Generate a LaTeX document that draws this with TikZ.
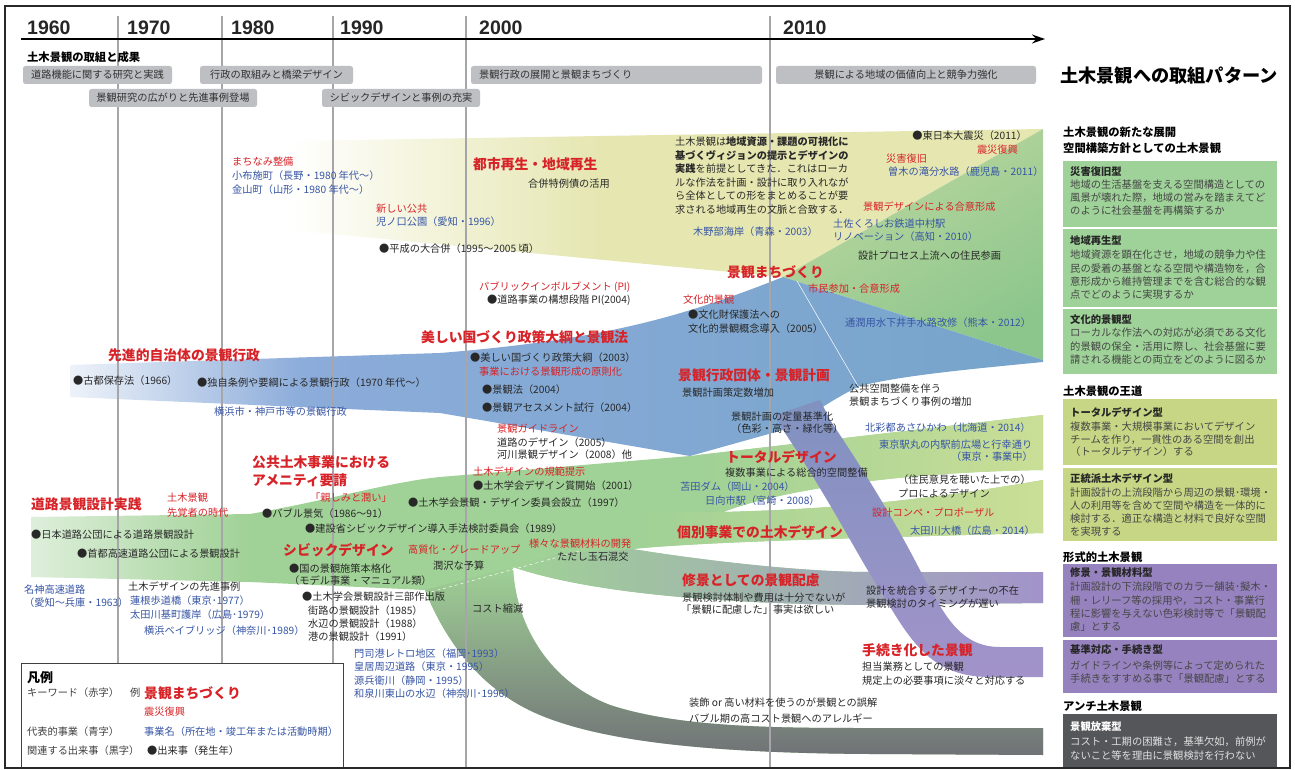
\documentclass[tikz,border=0pt]{standalone}
\usepackage{fontspec}
\setmainfont{Noto Sans CJK JP}
\newfontfamily\yearfont{Liberation Sans}
\usetikzlibrary{arrows.meta}
\definecolor{yel}{RGB}{229,230,176}
\definecolor{grn}{RGB}{160,209,150}
\definecolor{grnR}{RGB}{140,198,140}
\definecolor{ygrn}{RGB}{202,222,150}
\definecolor{blu1}{RGB}{140,172,218}
\definecolor{blu2}{RGB}{118,164,202}
\definecolor{pur}{RGB}{162,147,202}
\definecolor{gry}{RGB}{112,114,118}
\definecolor{strp}{RGB}{128,146,192}
\definecolor{linegray}{RGB}{165,165,170}
\definecolor{hdrbox}{RGB}{190,191,194}
\definecolor{hbt}{RGB}{50,50,50}
\definecolor{txtred}{RGB}{215,35,40}
\definecolor{txtblu}{RGB}{55,85,165}
\definecolor{txtk}{RGB}{40,40,40}
\definecolor{txtbody}{RGB}{70,70,70}
\definecolor{bxgrn}{RGB}{158,210,152}
\definecolor{bxyg}{RGB}{198,214,132}
\definecolor{bxpur}{RGB}{150,130,190}
\definecolor{bxdk}{RGB}{85,86,90}
\definecolor{frame}{RGB}{40,40,40}
\newcounter{tc}
\newcommand\fs[1]{\fontsize{#1bp}{#1bp}\selectfont}
\newcommand\T[4][]{\stepcounter{tc}\node[tx,#1] (t\arabic{tc}) at (#2,#3) {#4};}
\newcommand\HB[5]{\fill[hdrbox,rounded corners=2.5bp] (#1,#2) rectangle (#3,#4);
  \stepcounter{tc}\node[tx,anchor=center,text=hbt] (t\arabic{tc}) at ({(#1+#3)/2},{(#2+#4)/2}) {#5};}
\begin{document}
\begin{tikzpicture}[x=1bp,y=-1bp,
  tx/.style={anchor=west,inner sep=0pt,text=txtk,font=\fs{10.2}},
  redt/.style={text=txtred},
  blut/.style={text=txtblu},
  bigred/.style={text=txtred,font=\fs{13.8}\bfseries},
  hdr/.style={font=\fs{11.3}\bfseries,text=black},
  bxtitle/.style={font=\fs{10.3}\bfseries,text=black!85},
  bxbody/.style={font=\fs{10.3},text=txtbody},
  yr/.style={anchor=west,inner sep=0pt,font=\yearfont\fs{19.5}\bfseries,text=black!85},
  yline/.style={draw=linegray,line width=1.6bp}]
\useasboundingbox (0,0) rectangle (1295,770);
\fill[white] (0,0) rectangle (1295,770);

% ---------------- bands ----------------
% yellow (urban regeneration)
\shade[left color=white, right color=yel] (290,141) -- (600,136) -- (600,259.6) -- (290,230) -- cycle;
\fill[yel] (599,136) -- (1043,129) -- (783,277) -- (599,259.5) -- cycle;
% green fan (right)
\shade[top color=yel!55!grnR, bottom color=grnR, shading angle=30] (783,277) -- (1043,129) -- (1043,360) -- cycle;
% blue band
\shade[left color=blu1!15, right color=blu1] (70,365) -- (300,357.5) -- (300,407) -- (70,397) -- cycle;
\shade[left color=blu1, right color=blu2] (299,357.5) -- (440,353) .. controls (600,340) and (680,318) .. (783,277)
  -- (1043,360) -- (1043,362) .. controls (960,370) and (900,376) .. (860,386)
  .. controls (830,400) and (805,420) .. (783,430) -- (690,456) -- (440,413) -- (299,407) -- cycle;
% green main
\shade[left color=grn!35, right color=grn] (31,517) -- (251,514) -- (251,582) -- (31,577) -- cycle;
\fill[grn] (250,514) .. controls (330,500) and (390,482) .. (440,477)
  -- (690,456) -- (1043,415) -- (1043,470)
  .. controls (900,472) and (780,490) .. (723,512)
  .. controls (800,510) and (900,505) .. (1043,480)
  -- (1043,533) .. controls (850,538) and (700,542) .. (632,549)
  .. controls (700,560) and (800,572) .. (870,572) -- (1043,572) -- (1043,603) -- (870,605)
  .. controls (700,604) and (580,590) .. (513,567)
  .. controls (515,620) and (545,680) .. (610,705) .. controls (680,728) and (780,728) .. (870,728)
  -- (1043,728) -- (1043,755) -- (870,754)
  .. controls (700,753) and (600,740) .. (540,715) .. controls (480,690) and (445,640) .. (425,590)
  -- (250,582) -- cycle;
% total design band
\shade[left color=grn, right color=ygrn] (700,454.8) -- (1043,415) -- (1043,470)
  .. controls (900,472) and (780,490) .. (723,512) -- (700,512) -- cycle;
% individual project band
\shade[left color=grn, right color=ygrn] (632,512) -- (723,512) .. controls (800,510) and (900,505) .. (1043,480)
  -- (1043,533) .. controls (850,538) and (700,542) .. (632,549) -- cycle;
% shukei band
\shade[left color=grn, middle color=grn!40!pur, right color=pur] (560,553) -- (632,549)
  .. controls (700,560) and (800,572) .. (870,572) -- (1043,572) -- (1043,603) -- (870,605)
  .. controls (700,604) and (580,590) .. (513,567) -- cycle;
% gray band
\shade[top color=grn, middle color=grn!30!gry, bottom color=gry] (513,567)
  .. controls (515,620) and (545,680) .. (610,705) .. controls (680,728) and (780,728) .. (870,728)
  -- (1043,728) -- (1043,755) -- (870,754)
  .. controls (700,753) and (600,740) .. (540,715) .. controls (480,690) and (445,640) .. (425,590)
  -- (470,578) -- cycle;
% procedural stripe
\shade[top color=strp, middle color=strp!80!pur, bottom color=pur] (775,415) -- (783,430)
  .. controls (830,500) and (860,560) .. (880,590) .. controls (910,640) and (930,677) .. (990,677)
  -- (1043,677) -- (1043,647) -- (1000,647) .. controls (960,647) and (945,615) .. (925,580)
  .. controls (890,510) and (850,450) .. (830,420) -- (820,400) -- cycle;
\draw[white,line width=0.5bp] (797,281) -- (858,386);
\draw[white,line width=0.5bp,dashed] (420,595) -- (580,551);

% ---------------- grid ----------------
\foreach \xx/\yy in {118/663,222/663,333/663,466/768,770/768} \draw[yline] (\xx,16) -- (\xx,\yy);
\coordinate (ax0) at (21,39);
\coordinate (ax1) at (1045,39);
\draw[line width=1.5bp,-{Stealth[length=13bp,width=9bp]}] (ax0) -- (ax1);
\node[yr] (y60) at (27,27.5) {1960};
\node[yr] (y70) at (127,27.5) {1970};
\node[yr] (y80) at (231,27.5) {1980};
\node[yr] (y90) at (340,27.5) {1990};
\node[yr] (y00) at (479,27.5) {2000};
\node[yr] (y10) at (783,27.5) {2010};

% header
\T[hdr]{27}{57}{土木景観の取組と成果}
\HB{23}{66}{172}{84}{道路機能に関する研究と実践}
\HB{200}{66}{353}{84}{行政の取組みと橋梁デザイン}
\HB{89}{89}{257}{107}{景観研究の広がりと先進事例登場}
\HB{322}{89}{480}{107}{シビックデザインと事例の充実}
\fill[hdrbox,rounded corners=2.5bp] (471,66) rectangle (762,84);
\T[text=hbt]{479}{75}{景観行政の展開と景観まちづくり}
\HB{776}{66}{1036}{84}{景観による地域の価値向上と競争力強化}

% ---------------- flow texts ----------------
\T[redt]{232}{162}{まちなみ整備}
\T[blut]{232}{176}{小布施町（長野・1980 年代〜）}
\T[blut]{232}{190}{金山町（山形・1980 年代〜）}
\T[redt]{376}{209}{新しい公共}
\T[blut]{376}{222}{児ノ口公園（愛知・1996）}
\T{379}{249}{●平成の大合併（1995〜2005 頃）}
\T[bigred]{473}{164}{都市再生・地域再生}
\T{528}{184}{合併特例債の活用}
\T{675}{141.7}{土木景観は\textbf{地域資源・課題の可視化に}}
\T{675}{155.2}{\textbf{基づくヴィジョンの提示とデザインの}}
\T{675}{168.7}{\textbf{実践}を前提としてきた．これはローカ}
\T{675}{182.2}{ルな作法を計画・設計に取り入れなが}
\T{675}{195.7}{ら全体としての形をまとめることが要}
\T{675}{209.2}{求される地域再生の文脈と合致する．}
\T[blut]{693}{232}{木野部海岸（青森・2003）}
\T[anchor=east]{1027}{136}{●東日本大震災（2011）}
\T[redt,anchor=east]{1018}{150}{震災復興}
\T[redt]{886}{159}{災害復旧}
\T[blut]{888}{172}{曽木の滝分水路（鹿児島・2011）}
\T[redt]{863}{207}{景観デザインによる合意形成}
\T[blut]{833}{224}{土佐くろしお鉄道中村駅}
\T[blut]{833}{237}{リノベーション（高知・2010）}
\T{858}{256}{設計プロセス上流への住民参画}
\T[bigred]{727}{272}{景観まちづくり}
\T[redt]{808}{289}{市民参加・合意形成}
\T[redt]{683}{300}{文化的景観}
\T{688}{315}{●文化財保護法への}
\T{688}{329}{文化的景観概念導入（2005）}
\T[blut]{845}{323}{通潤用水下井手水路改修（熊本・2012）}
\T[redt]{479}{287}{パブリックインボルブメント (PI)}
\T{487}{300}{●道路事業の構想段階 PI(2004)}
\T[bigred]{421}{337}{美しい国づくり政策大綱と景観法}
\T{470}{358}{●美しい国づくり政策大綱（2003）}
\T[redt]{479}{372}{事業における景観形成の原則化}
\T{482}{390}{●景観法（2004）}
\T{482}{408}{●景観アセスメント試行（2004）}
\T[redt]{497}{429}{景観ガイドライン}
\T{497}{443}{道路のデザイン（2005）}
\T{497}{455}{河川景観デザイン（2008）他}
\T[redt]{473}{472}{土木デザインの規範提示}
\T{473}{486}{●土木学会デザイン賞開始（2001）}
\T[bigred]{678}{375}{景観行政団体・景観計画}
\T{682}{393}{景観計画策定数増加}
\T{731}{417}{景観計画の定量基準化}
\T{731}{429}{（色彩・高さ・緑化等）}
\T{849}{389}{公共空間整備を伴う}
\T{849}{402}{景観まちづくり事例の増加}
\T[blut]{865}{428}{北彩都あさひかわ（北海道・2014）}
\T[blut]{879}{445}{東京駅丸の内駅前広場と行幸通り}
\T[blut,anchor=east]{1033}{457}{（東京・事業中）}
\T[bigred]{726}{457}{トータルデザイン}
\T{725}{473}{複数事業による総合的空間整備}
\T[blut]{680}{487}{苫田ダム（岡山・2004）}
\T[blut]{705}{501}{日向市駅（宮崎・2008）}
\T{898}{480}{（住民意見を聴いた上での）}
\T{898}{493}{プロによるデザイン}
\T[redt]{872}{513}{設計コンペ・プロポーザル}
\T[blut]{910}{531}{太田川大橋（広島・2014）}
\T[bigred]{677}{532}{個別事業での土木デザイン}
\T[bigred]{108}{355}{先進的自治体の景観行政}
\T{73}{381}{●古都保存法（1966）}
\T{197}{383}{●独自条例や要綱による景観行政（1970 年代〜）}
\T[blut]{214}{412}{横浜市・神戸市等の景観行政}
\T[bigred]{252}{462}{公共土木事業における}
\T[bigred]{252}{480}{アメニティ要請}
\T[redt]{310}{498}{「親しみと潤い」}
\T[bigred]{31}{504}{道路景観設計実践}
\T[redt]{167}{498}{土木景観}
\T[redt]{167}{513}{先覚者の時代}
\T{262}{514}{●バブル景気（1986〜91）}
\T{408}{503}{●土木学会景観・デザイン委員会設立（1997）}
\T{305}{529}{●建設省シビックデザイン導入手法検討委員会（1989）}
\T[bigred]{283}{550}{シビックデザイン}
\T[redt]{408}{550}{高質化・グレードアップ}
\T{433}{566}{潤沢な予算}
\T[redt]{529}{544}{様々な景観材料の開発}
\T{557}{557}{ただし玉石混交}
\T{472}{609}{コスト縮減}
\T{31}{535}{●日本道路公団による道路景観設計}
\T{77}{554}{●首都高速道路公団による景観設計}
\T[blut]{24}{590}{名神高速道路}
\T[blut]{24}{603}{（愛知〜兵庫・1963）}
\T{128}{587}{土木デザインの先進事例}
\T[blut]{130}{601}{蓮根歩道橋（東京･1977）}
\T[blut]{130}{615}{太田川基町護岸（広島･1979）}
\T[blut]{144}{631}{横浜ベイブリッジ（神奈川･1989）}
\T{289}{569}{●国の景観施策本格化}
\T{289}{581}{（モデル事業・マニュアル類）}
\T{302}{597}{●土木学会景観設計三部作出版}
\T{308}{611}{街路の景観設計（1985）}
\T{308}{624}{水辺の景観設計（1988）}
\T{308}{637}{港の景観設計（1991）}
\T[blut]{354}{654}{門司港レトロ地区（福岡･1993）}
\T[blut]{354}{667}{皇居周辺道路（東京・1995）}
\T[blut]{354}{681}{源兵衛川（静岡・1995）}
\T[blut]{354}{694}{和泉川東山の水辺（神奈川･1996）}
\T[bigred]{682}{580}{修景としての景観配慮}
\T{682}{598}{景観検討体制や費用は十分でないが}
\T{681}{610}{「景観に配慮した」事実は欲しい}
\T{866}{591}{設計を統合するデザイナーの不在}
\T{866}{604}{景観検討のタイミングが遅い}
\T[bigred]{862}{650}{手続き化した景観}
\T{862}{667}{担当業務としての景観}
\T{862}{681}{規定上の必要事項に淡々と対応する}
\T{689}{703}{装飾 or 高い材料を使うのが景観との誤解}
\T{689}{719}{バブル期の高コスト景観へのアレルギー}

% ---------------- legend ----------------
\draw[fill=white,draw=black!75,line width=0.9bp] (21,663) rectangle (343,767);
\T[font=\fs{13}\bfseries,text=black]{27}{678}{凡例}
\T[text=black!75]{27}{693}{キーワード（赤字）}
\T[text=black!75]{130}{693}{例}
\T[bigred]{144}{693}{景観まちづくり}
\T[redt]{144}{712}{震災復興}
\T[text=black!75]{27}{732}{代表的事業（青字）}
\T[blut]{144}{732}{事業名（所在地・竣工年または活動時期）}
\T[text=black!75]{27}{751}{関連する出来事（黒字）}
\T{147}{751}{●出来事（発生年）}

% ---------------- right panel ----------------
\T[font=\fs{18.2}\bfseries,text=black]{1060}{76}{土木景観への取組パターン}
\T[hdr]{1063}{132}{土木景観の新たな展開}
\T[hdr]{1063}{148}{空間構築方針としての土木景観}
\fill[bxgrn] (1063,161) rectangle (1277,227);
\T[bxtitle]{1070}{172}{災害復旧型}
\T[bxbody]{1070}{184.5}{地域の生活基盤を支える空間構造としての}
\T[bxbody]{1070}{197.5}{風景が壊れた際，地域の営みを踏まえてど}
\T[bxbody]{1070}{211}{のように社会基盤を再構築するか}
\fill[bxgrn] (1063,229) rectangle (1277,307);
\T[bxtitle]{1070}{241}{地域再生型}
\T[bxbody]{1070}{255}{地域資源を顕在化させ，地域の競争力や住}
\T[bxbody]{1070}{268.3}{民の愛着の基盤となる空間や構造物を，合}
\T[bxbody]{1070}{281.6}{意形成から維持管理までを含む総合的な観}
\T[bxbody]{1070}{294.5}{点でどのように実現するか}
\fill[bxgrn] (1063,309) rectangle (1277,374);
\T[bxtitle]{1070}{320}{文化的景観型}
\T[bxbody]{1070}{333}{ローカルな作法への対応が必須である文化}
\T[bxbody]{1070}{346.5}{的景観の保全・活用に際し、社会基盤に要}
\T[bxbody]{1070}{359.5}{請される機能との両立をどのように図るか}
\T[hdr]{1063}{391}{土木景観の王道}
\fill[bxyg] (1063,399) rectangle (1277,465);
\T[bxtitle]{1070}{412}{トータルデザイン型}
\T[bxbody]{1070}{427}{複数事業・大規模事業においてデザイン}
\T[bxbody]{1070}{439.5}{チームを作り，一貫性のある空間を創出}
\T[bxbody]{1070}{452}{（トータルデザイン）する}
\fill[bxyg] (1063,468) rectangle (1277,541);
\T[bxtitle]{1070}{479}{正統派土木デザイン型}
\T[bxbody]{1070}{493}{計画設計の上流段階から周辺の景観･環境・}
\T[bxbody]{1070}{506}{人の利用等を含めて空間や構造を一体的に}
\T[bxbody]{1070}{518.5}{検討する．適正な構造と材料で良好な空間}
\T[bxbody]{1070}{531.5}{を実現する}
\T[hdr]{1063}{557}{形式的土木景観}
\fill[bxpur] (1063,564) rectangle (1277,637);
\T[bxtitle]{1070}{573}{修景・景観材料型}
\T[bxbody]{1070}{587}{計画設計の下流段階でのカラー舗装･擬木・}
\T[bxbody]{1070}{600.5}{柵・レリーフ等の採用や，コスト・事業行}
\T[bxbody]{1070}{614}{程に影響を与えない色彩検討等で「景観配}
\T[bxbody]{1070}{627}{慮」とする}
\fill[bxpur] (1063,640) rectangle (1277,693);
\T[bxtitle]{1070}{650}{基準対応・手続き型}
\T[bxbody]{1070}{665.5}{ガイドラインや条例等によって定められた}
\T[bxbody]{1070}{678.5}{手続きをすすめる事で「景観配慮」とする}
\T[hdr]{1063}{706}{アンチ土木景観}
\fill[bxdk] (1063,714) rectangle (1277,767);
\T[bxtitle,text=white]{1070}{727}{景観放棄型}
\T[bxbody,text=black!12]{1070}{742}{コスト・工期の困難さ，基準欠如，前例が}
\T[bxbody,text=black!12]{1070}{755.5}{ないこと等を理由に景観検討を行わない}

% frame
\draw[frame,line width=2bp] (5,6) rectangle (1290,768);
\end{tikzpicture}
\end{document}
